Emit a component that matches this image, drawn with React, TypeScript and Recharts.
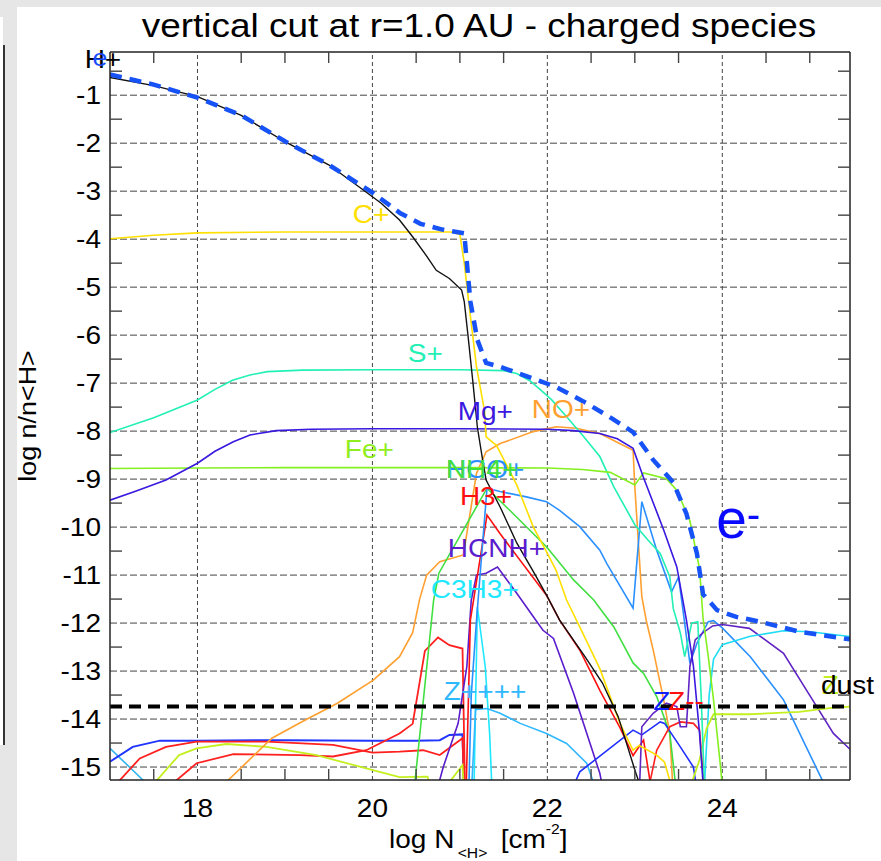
import React from 'react';
import { LineChart, Line, XAxis, YAxis, ReferenceLine, ReferenceDot } from 'recharts';

type P = [number, number];

// ---------- axes ----------
const X_DOMAIN: [number, number] = [17, 25.46];
const Y_DOMAIN: [number, number] = [-15.27, -0.1];
const X_TICKS = [17.5, 18, 18.5, 19, 19.5, 20, 20.5, 21, 21.5, 22, 22.5, 23, 23.5, 24, 24.5, 25];
const X_LABELS = [18, 20, 22, 24];
const Y_TICKS = [-0.5, -1, -1.5, -2, -2.5, -3, -3.5, -4, -4.5, -5, -5.5, -6, -6.5, -7, -7.5, -8, -8.5, -9, -9.5, -10, -10.5, -11, -11.5, -12, -12.5, -13, -13.5, -14, -14.5, -15];
const Y_LABELS = [-1, -2, -3, -4, -5, -6, -7, -8, -9, -10, -11, -12, -13, -14, -15];
const DUST_LEVEL = -13.74;

// ---------- series (log N_<H>, log n/n<H>) ----------
const eMinus: P[] = [[17,-0.57],[17.5,-0.78],[18,-1.05],[18.5,-1.42],[19,-1.96],[19.5,-2.45],[20,-3.03],[20.32,-3.46],[20.55,-3.68],[20.8,-3.8],[21.05,-3.88],[21.12,-5.3],[21.2,-6.1],[21.3,-6.58],[21.46,-6.66],[21.83,-6.9],[22.1,-7.08],[22.45,-7.42],[22.75,-7.75],[22.98,-8.02],[23.21,-8.6],[23.44,-9.07],[23.59,-9.72],[23.71,-10.55],[23.78,-11.4],[23.94,-11.73],[24.16,-11.87],[24.43,-11.97],[24.88,-12.18],[25.46,-12.34]];
const hPlus: P[] = [[17,-0.63],[17.5,-0.8],[18,-1.03],[18.5,-1.42],[19,-1.97],[19.5,-2.45],[19.9,-2.98],[20.1,-3.25],[20.31,-3.6],[20.46,-3.95],[20.6,-4.3],[20.73,-4.65],[20.88,-4.82],[21.02,-5.06],[21.05,-5.3],[21.09,-5.96],[21.15,-7.0],[21.2,-7.92],[21.26,-8.6],[21.3,-9.02],[21.46,-9.58],[21.65,-10.33],[21.85,-10.96],[22.0,-11.45],[22.14,-11.94],[22.43,-12.7],[22.63,-13.25],[22.81,-13.95],[23.0,-15.06],[23.1,-15.6]];
const cPlus: P[] = [[17,-3.99],[17.5,-3.92],[18,-3.87],[19,-3.85],[20,-3.85],[20.9,-3.85],[21.0,-3.9],[21.05,-4.5],[21.1,-5.3],[21.19,-6.66],[21.28,-7.56],[21.3,-8.12],[21.42,-8.3],[21.65,-9.12],[21.84,-10.0],[22.0,-10.55],[22.1,-10.9],[22.22,-11.52],[22.37,-12.08],[22.6,-12.95],[22.83,-14.09],[22.98,-14.65],[23.05,-14.55],[23.25,-14.75],[23.34,-14.9],[23.45,-15.6]];
const sPlus: P[] = [[17,-8.03],[17.5,-7.72],[18,-7.35],[18.2,-7.13],[18.4,-6.94],[18.6,-6.83],[18.8,-6.76],[19.2,-6.73],[20,-6.72],[21,-6.72],[21.5,-6.74],[21.65,-6.8],[21.8,-6.95],[21.91,-7.12],[22.05,-7.35],[22.22,-7.7],[22.4,-8.08],[22.6,-8.53],[22.76,-9.16],[23.0,-9.95],[23.15,-10.27],[23.29,-10.55],[23.4,-11.04],[23.44,-11.7],[23.52,-12.2],[23.57,-12.7],[23.65,-12.0],[23.72,-11.97],[23.76,-13.6],[23.8,-15.6]];
const mgPlus: P[] = [[17,-9.44],[17.3,-9.25],[17.64,-9.02],[18,-8.67],[18.2,-8.42],[18.41,-8.22],[18.6,-8.08],[18.9,-7.99],[19.3,-7.96],[20,-7.95],[21,-7.95],[22,-7.96],[22.3,-7.99],[22.6,-8.05],[22.8,-8.16],[22.98,-8.36],[23.1,-8.97],[23.33,-10.06],[23.48,-10.83],[23.59,-11.94],[23.67,-12.9],[23.74,-14.3],[23.79,-15.6]];
const fePlus: P[] = [[17,-8.78],[18,-8.77],[19,-8.76],[20,-8.76],[21,-8.76],[22,-8.77],[22.4,-8.8],[22.72,-8.86],[23.0,-9.12],[23.1,-8.87],[23.36,-8.99],[23.48,-9.23],[23.63,-9.87],[23.74,-10.87],[23.78,-11.9],[23.84,-12.7],[23.9,-13.6],[23.98,-15.0],[24.01,-15.6]];
const noPlus: P[] = [[18.25,-15.45],[18.85,-14.4],[19.2,-14.05],[19.6,-13.67],[20.01,-13.19],[20.31,-12.7],[20.46,-12.2],[20.54,-11.5],[20.62,-11.0],[20.77,-10.72],[21.04,-10.58],[21.19,-8.88],[21.3,-8.43],[21.46,-8.26],[21.84,-8.01],[22.1,-7.91],[22.33,-7.94],[22.6,-8.05],[22.98,-8.4],[23.0,-9.16],[23.08,-11.45],[23.13,-11.94],[23.21,-12.56],[23.33,-13.6],[23.4,-14.3],[23.44,-15.6]];
const nh4Plus: P[] = [[20.47,-15.6],[20.7,-11.52],[20.76,-10.96],[21.31,-9.19],[21.57,-9.65],[21.99,-10.41],[22.3,-11.1],[22.53,-11.52],[22.76,-12.08],[22.98,-12.83],[23.1,-13.05],[23.25,-13.53],[23.4,-14.3],[23.48,-15.6]];
const hcoPlus: P[] = [[21.1,-15.6],[21.13,-13.5],[21.19,-11.94],[21.31,-9.19],[21.46,-9.26],[21.76,-9.37],[21.99,-9.47],[22.14,-9.65],[22.37,-9.99],[22.6,-10.48],[22.68,-10.76],[22.98,-11.69],[23.08,-9.47],[23.25,-10.48],[23.42,-11.35],[23.5,-11.04],[23.57,-12.0],[23.63,-12.84],[23.71,-12.42],[23.84,-11.97],[23.9,-11.95],[24.0,-12.1],[24.32,-12.7],[24.7,-13.6],[25.15,-15.3],[25.2,-15.6]];
const h3Plus: P[] = [[21.07,-15.6],[21.12,-11.94],[21.31,-9.75],[21.46,-10.14],[21.99,-11.42],[22.14,-11.94],[22.37,-12.56],[22.6,-13.4],[22.83,-14.18],[22.98,-14.76],[23.1,-14.44],[23.2,-15.6]];
const redA: P[] = [[16.95,-15.6],[17.34,-14.82],[17.64,-14.58],[17.99,-14.47],[18.79,-14.47],[19.55,-14.54],[20.0,-14.7],[20.31,-14.68],[20.58,-14.65],[20.77,-14.75],[21.03,-14.4],[21.05,-15.6]];
const redB: P[] = [[17.55,-15.6],[17.99,-14.92],[18.41,-14.73],[19.17,-14.75],[19.55,-14.78],[19.93,-14.65],[20.31,-14.3],[20.46,-14.1],[20.6,-12.58],[20.75,-12.3],[20.88,-12.46],[21.03,-12.53],[21.06,-15.6]];
const hcnhPlus: P[] = [[20.72,-15.6],[20.81,-15.0],[20.98,-14.09],[21.08,-12.9],[21.13,-11.52],[21.19,-11.0],[21.3,-10.96],[21.43,-10.83],[21.65,-11.38],[21.84,-11.87],[21.95,-12.15],[22.07,-12.32],[22.3,-13.46],[22.6,-15.13],[22.65,-15.6]];
const purpleR: P[] = [[23.05,-15.6],[23.08,-14.16],[23.21,-13.88],[23.36,-13.67],[23.48,-13.74],[23.52,-14.16],[23.59,-14.16],[23.63,-12.9],[23.69,-12.35],[23.78,-12.2],[23.89,-12.06],[24.0,-12.03],[24.31,-12.11],[24.7,-12.63],[25.08,-13.74],[25.27,-14.3],[25.46,-14.63]];
const c3h3Plus: P[] = [[21.16,-15.6],[21.2,-11.66],[21.29,-12.91],[21.34,-14.3],[21.37,-15.6]];
const cyanR: P[] = [[23.79,-15.6],[23.85,-13.5],[23.9,-12.75],[24.0,-12.45],[24.31,-12.28],[24.7,-12.16],[25.0,-12.18],[25.46,-12.28]];
const zPlus4: P[] = [[21.13,-15.6],[21.18,-13.8],[21.31,-13.78],[21.46,-13.88],[21.69,-14.09],[21.99,-14.3],[22.22,-14.51],[22.45,-14.92],[22.58,-15.6]];
const lightBlueL: P[] = [[17,-14.61],[17.45,-15.4]];
const blueL: P[] = [[17,-14.89],[17.26,-14.58],[17.57,-14.45],[18,-14.45],[19,-14.44],[20,-14.45],[20.5,-14.45],[20.77,-14.44],[20.88,-14.33],[21.03,-14.32],[21.05,-15.6]];
const blueZ: P[] = [[22.25,-15.6],[22.37,-15.1],[22.98,-14.23],[23.08,-14.33],[23.29,-14.06],[23.34,-14.09],[23.52,-14.58],[23.67,-15.0],[23.72,-15.6]];
const redZ: P[] = [[23.14,-15.6],[23.25,-14.65],[23.4,-14.16],[23.52,-14.06],[23.67,-14.09],[23.74,-14.23],[23.8,-15.6]];
const ygL: P[] = [[17.38,-15.6],[17.79,-14.75],[17.99,-14.61],[18.33,-14.52],[18.79,-14.58],[19.36,-14.75],[19.93,-15.03],[20.31,-15.21],[20.63,-15.2],[20.68,-15.6],[20.85,-15.6],[20.9,-15.27],[21.03,-14.96],[21.05,-15.6]];
const ygR: P[] = [[23.6,-15.6],[23.74,-14.85],[23.82,-14.2],[23.9,-13.9],[24.31,-13.9],[24.88,-13.85],[25.27,-13.76],[25.46,-13.74]];

const SERIES: { d: P[]; c: string; w: number }[] = [
  { d: lightBlueL, c: '#33b4f0', w: 1.6 },
  { d: blueL, c: '#2035ff', w: 2 },
  { d: redA, c: '#ff2020', w: 1.8 },
  { d: redB, c: '#ff2020', w: 1.8 },
  { d: ygL, c: '#c4f020', w: 1.8 },
  { d: noPlus, c: '#ffa030', w: 1.6 },
  { d: nh4Plus, c: '#40e040', w: 1.6 },
  { d: hcnhPlus, c: '#5a1ccc', w: 1.6 },
  { d: c3h3Plus, c: '#20e8ff', w: 1.6 },
  { d: zPlus4, c: '#30b8ff', w: 1.6 },
  { d: h3Plus, c: '#ff1010', w: 1.6 },
  { d: hcoPlus, c: '#2a90ff', w: 1.6 },
  { d: blueZ, c: '#2030ff', w: 1.6 },
  { d: redZ, c: '#ff2020', w: 1.6 },
  { d: purpleR, c: '#6024c4', w: 1.6 },
  { d: cyanR, c: '#20dcf4', w: 1.6 },
  { d: ygR, c: '#c4f020', w: 1.8 },
  { d: sPlus, c: '#22f0b4', w: 1.6 },
  { d: fePlus, c: '#84f020', w: 1.6 },
  { d: mgPlus, c: '#3a18e0', w: 1.6 },
  { d: cPlus, c: '#ffe000', w: 1.6 },
  { d: hPlus, c: '#111111', w: 1.4 },
];

// species labels: text, colour, anchor (left, baseline) in data units
const LABELS: { t: string; c: string; x: number; y: number; s: number; sup?: string }[] = [
  { t: 'H+', c: '#000000', x: 16.71, y: -0.44, s: 25 },
  { t: 'e', c: '#1a4cff', x: 16.8, y: -0.4, s: 24 },
  { t: 'C+', c: '#ffe000', x: 19.775, y: -3.667, s: 25 },
  { t: 'S+', c: '#22f0b4', x: 20.405, y: -6.5625, s: 25 },
  { t: 'Mg+', c: '#3a18e0', x: 20.975, y: -7.77, s: 25 },
  { t: 'NO+', c: '#ffa030', x: 21.823, y: -7.729, s: 25 },
  { t: 'Fe+', c: '#90ee20', x: 19.685, y: -8.5625, s: 25 },
  { t: 'HCO+', c: '#2a90ff', x: 20.84, y: -8.979, s: 25 },
  { t: 'NH4+', c: '#40e040', x: 20.84, y: -8.979, s: 25 },
  { t: 'H3+', c: '#ff1010', x: 21.0, y: -9.5417, s: 25 },
  { t: 'HCNH+', c: '#5a1ccc', x: 20.862, y: -10.625, s: 25 },
  { t: 'C3H3+', c: '#20e8ff', x: 20.668, y: -11.479, s: 25 },
  { t: 'Z++++', c: '#30b8ff', x: 20.817, y: -13.604, s: 25 },
  { t: 'Z', c: '#1020ff', x: 23.21, y: -13.8125, s: 25 },
  { t: 'Z--', c: '#ff1010', x: 23.38, y: -13.8125, s: 25 },
  { t: 'Z', c: '#c4f020', x: 25.14, y: -13.479, s: 25 },
  { t: 'dust', c: '#000000', x: 25.129, y: -13.479, s: 25 },
  { t: 'e', c: '#0a0aff', x: 23.93, y: -10.229, s: 55, sup: '-' },
];

const FONT = "'Liberation Sans', Arial, Helvetica, sans-serif";
const SX = 1.12;
const TICK_LEN = 11;
const TICK_COLOR = '#444';

const pts = (a: P[]) => a.map(([x, y]) => ({ x, y }));

const BottomTick = (props: any) => {
  const { x, y, payload } = props;
  const v = payload.value as number;
  const major = X_LABELS.includes(v);
  return (
    <g>
      {!major && <line x1={x} x2={x} y1={y} y2={y - TICK_LEN} stroke={TICK_COLOR} strokeWidth={1.4} />}
      {major && (
        <text transform={`translate(${x},${y + 37}) scale(${SX},1)`} textAnchor="middle" fontSize={25} fontFamily={FONT} fill="#000">
          {v}
        </text>
      )}
    </g>
  );
};
const TopTick = (props: any) => {
  const { x, y, payload } = props;
  const major = X_LABELS.includes(payload.value);
  return <g>{!major && <line x1={x} x2={x} y1={y} y2={y + TICK_LEN} stroke={TICK_COLOR} strokeWidth={1.4} />}</g>;
};
const LeftTick = (props: any) => {
  const { x, y, payload } = props;
  const v = payload.value as number;
  const major = Y_LABELS.includes(v);
  return (
    <g>
      {!major && <line x1={x} x2={x + TICK_LEN + 1} y1={y} y2={y} stroke={TICK_COLOR} strokeWidth={1.4} />}
      {major && (
        <text transform={`translate(${x - 9},${y + 9}) scale(${SX},1)`} textAnchor="end" fontSize={25} fontFamily={FONT} fill="#000">
          {v}
        </text>
      )}
    </g>
  );
};
const RightTick = (props: any) => {
  const { x, y, payload } = props;
  const major = Y_LABELS.includes(payload.value);
  return <g>{!major && <line x1={x} x2={x - TICK_LEN - 1} y1={y} y2={y} stroke={TICK_COLOR} strokeWidth={1.4} />}</g>;
};

const AXIS_LINE = { stroke: '#222', strokeWidth: 1.5 };

export default function App() {
  return (
    <div style={{ position: 'absolute', left: 0, top: 0, width: 881, height: 861, background: '#e6e6e6', overflow: 'hidden' }}>
      <div style={{ position: 'absolute', left: 17, top: 7, width: 864, height: 854, background: '#ffffff' }} />
      <div style={{ position: 'absolute', left: 0, top: 17, width: 3, height: 728, background: '#ffffff' }} />
      <div style={{ position: 'absolute', left: 3, top: 45, width: 2, height: 700, background: '#333333' }} />
      <div style={{ position: 'absolute', left: 0, top: 0 }}>
        <LineChart width={881} height={861} margin={{ top: 51, left: 109, right: 30, bottom: 80 }}>
          <XAxis dataKey="x" type="number" domain={X_DOMAIN} ticks={X_TICKS} interval={0} allowDataOverflow
            height={1} tickSize={0} tickMargin={0} tickLine={false} axisLine={AXIS_LINE} tick={<BottomTick />} />
          <XAxis xAxisId="top" orientation="top" dataKey="x" type="number" domain={X_DOMAIN} ticks={X_TICKS} interval={0} allowDataOverflow
            height={1} tickSize={0} tickMargin={0} tickLine={false} axisLine={AXIS_LINE} tick={<TopTick />} />
          <YAxis type="number" domain={Y_DOMAIN} ticks={Y_TICKS} interval={0} allowDataOverflow
            width={1} tickSize={0} tickMargin={0} tickLine={false} axisLine={AXIS_LINE} tick={<LeftTick />} />
          <YAxis yAxisId="right" orientation="right" type="number" domain={Y_DOMAIN} ticks={Y_TICKS} interval={0} allowDataOverflow
            width={1} tickSize={0} tickMargin={0} tickLine={false} axisLine={AXIS_LINE} tick={<RightTick />} />

          {Y_LABELS.map((v) => (
            <ReferenceLine key={'gy' + v} y={v} stroke="#444" strokeWidth={1} strokeDasharray="7 3" />
          ))}
          {X_LABELS.map((v) => (
            <ReferenceLine key={'gx' + v} x={v} stroke="#444" strokeWidth={1} strokeDasharray="4 3" />
          ))}

          {SERIES.map((s, i) => (
            <Line key={i} data={pts(s.d)} dataKey="y" type="linear" stroke={s.c} strokeWidth={s.w} dot={false}
              activeDot={false} isAnimationActive={false} />
          ))}

          <ReferenceLine y={DUST_LEVEL} stroke="#000" strokeWidth={4} strokeDasharray="12 7" />

          <Line data={pts(eMinus)} dataKey="y" type="linear" stroke="#1652f5" strokeWidth={4.5} strokeDasharray="12 8"
            dot={false} activeDot={false} isAnimationActive={false} />

          {LABELS.map((l, i) => (
            <ReferenceDot key={'l' + i} x={l.x} y={l.y} r={1} ifOverflow="visible"
              shape={(p: any) => (
                <text transform={`translate(${p.cx},${p.cy}) scale(${l.s > 40 ? 1 : SX},1)`} fill={l.c} fontSize={l.s} fontFamily={FONT}>
                  {l.t}
                  {l.sup && <tspan fontSize={40} dy={-10}>{l.sup}</tspan>}
                </text>
              )} />
          ))}
        </LineChart>
      </div>
      <svg width={881} height={861} style={{ position: 'absolute', left: 0, top: 0, pointerEvents: 'none' }}>
        <text transform={`translate(479,37) scale(${SX},1)`} textAnchor="middle" fontSize={33} fontFamily={FONT} fill="#000">
          vertical cut at r=1.0 AU - charged species
        </text>
        <text transform={`translate(36,416) rotate(-90) scale(${SX},1)`} textAnchor="middle" fontSize={24} fontFamily={FONT} fill="#000">
          log n/n&lt;H&gt;
        </text>
        <text transform={`translate(389,848) scale(${SX},1)`} fontSize={25} fontFamily={FONT} fill="#000">
          log N
          <tspan fontSize={14} dx={3} dy={10}>&lt;H&gt;</tspan>
          <tspan fontSize={25} dx={5} dy={-10}> [cm</tspan>
          <tspan fontSize={14} dy={-14}>-2</tspan>
          <tspan fontSize={25} dy={14}>]</tspan>
        </text>
      </svg>
    </div>
  );
}
